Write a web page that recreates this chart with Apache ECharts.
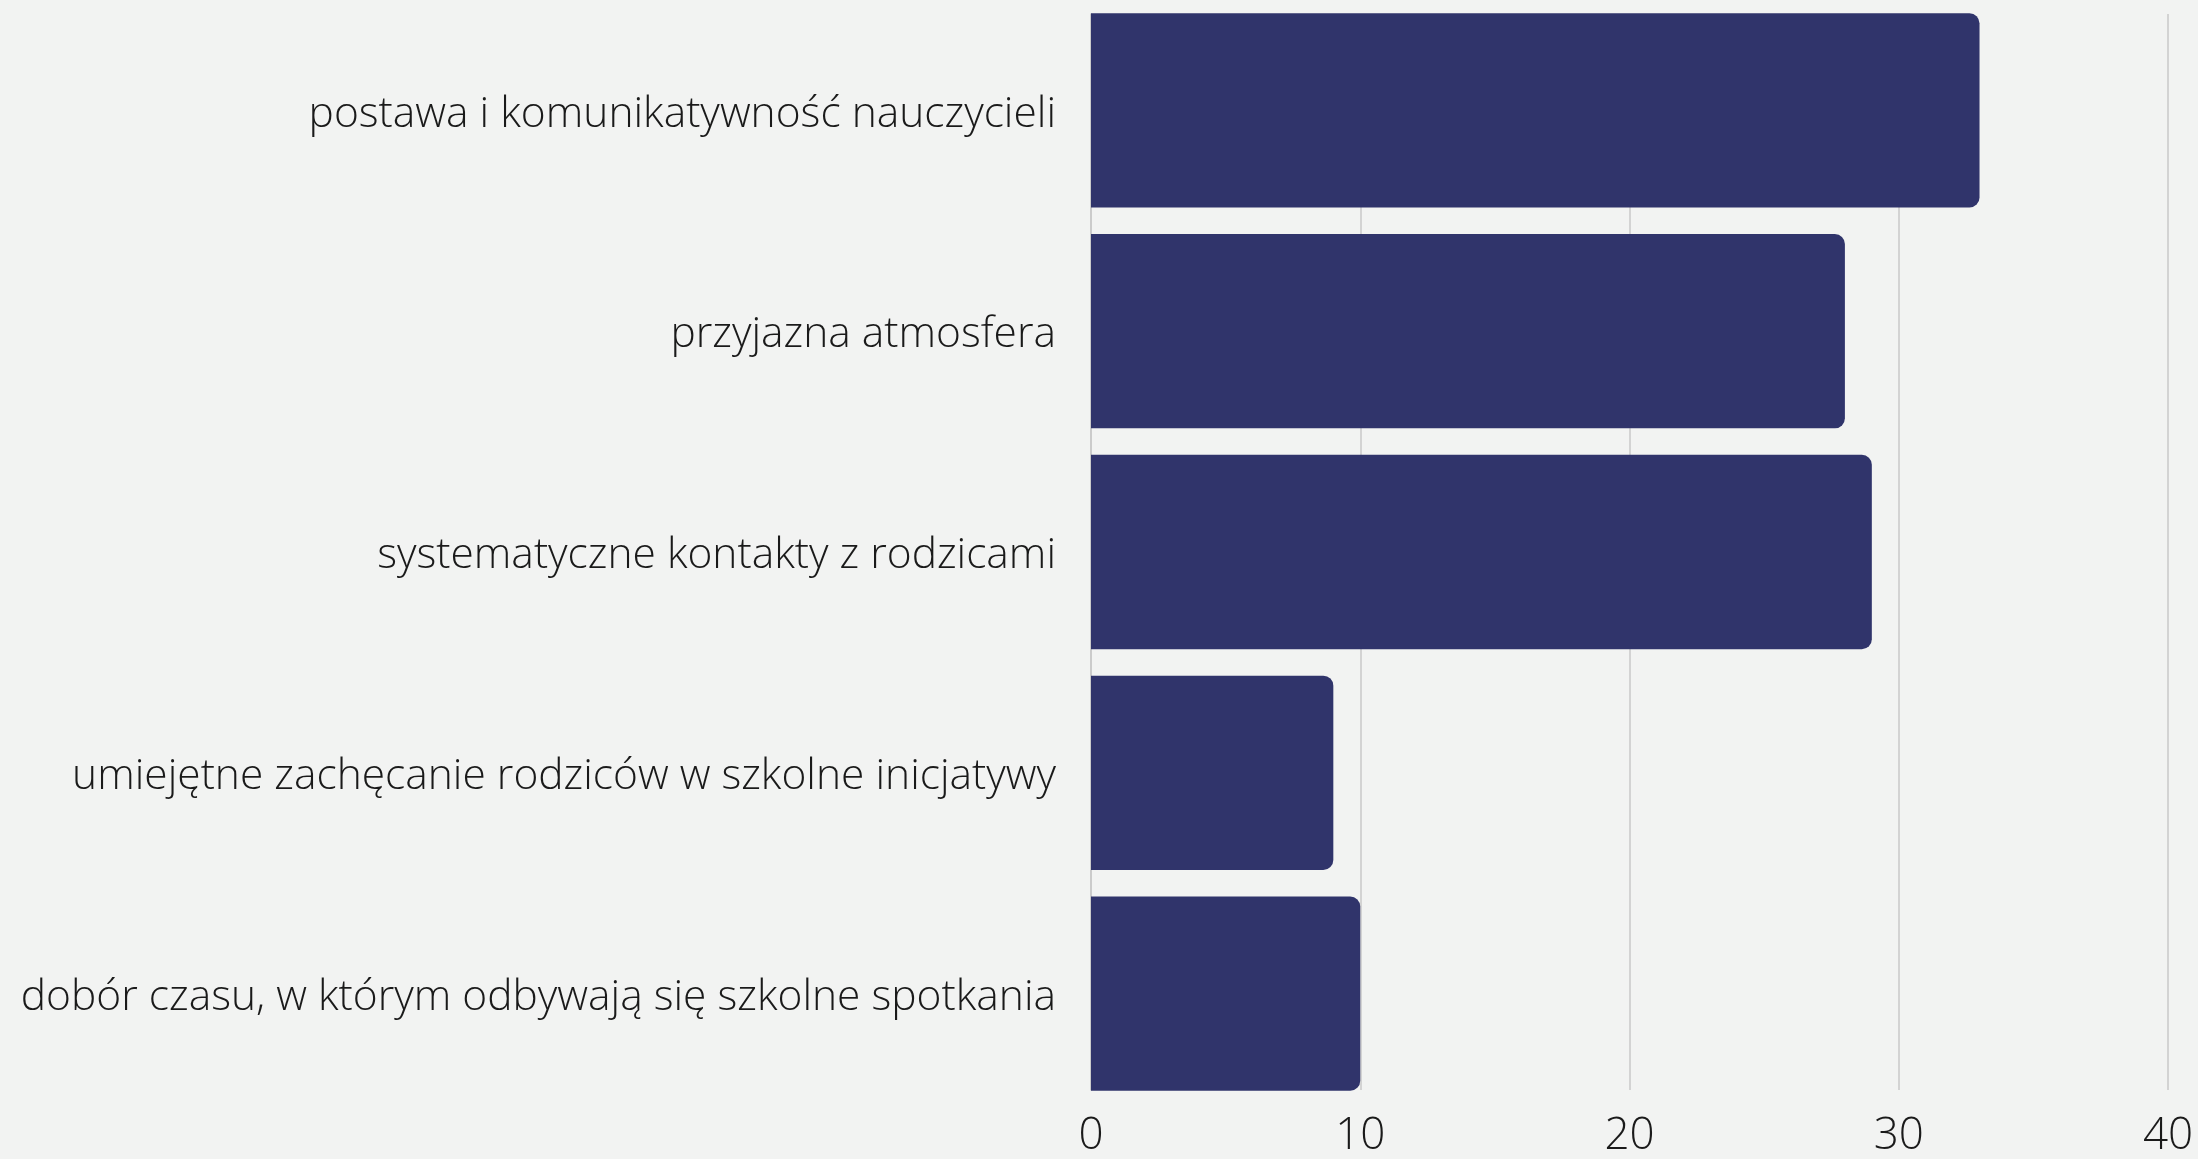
<!DOCTYPE html>
<html>
<head>
<meta charset="utf-8">
<script src="https://cdn.jsdelivr.net/npm/echarts@6/dist/echarts.min.js"></script>
<style>
  html, body { margin: 0; padding: 0; background: #f2f3f2; }
  #chart { width: 2198px; height: 1159px; }
</style>
</head>
<body>
<div id="chart"></div>
<script>
// kategorie (od góry)
var categories = [
    'postawa i komunikatywność nauczycieli',
    'przyjazna atmosfera',
    'systematyczne kontakty z rodzicami',
    'umiejętne zachęcanie rodziców w szkolne inicjatywy',
    'dobór czasu, w którym odbywają się szkolne spotkania'
];
var values = [33, 28, 29, 9, 10];
var xTicks = [0, 10, 20, 30, 40];

var chart = echarts.init(document.getElementById('chart'));
var font = '"Open Sans", sans-serif';

var option = {
    backgroundColor: '#f2f3f2',
    animation: false,
    grid: [
        // siatka z liniami i osią
        { left: 1091, right: 30, top: 14, bottom: 69, outerBoundsMode: 'none', containLabel: false },
        // słupki
        { left: 1091, right: 30, top: 0, bottom: 55, outerBoundsMode: 'none', containLabel: false }
    ],
    xAxis: [
        {
            gridIndex: 0,
            type: 'value',
            min: xTicks[0],
            max: xTicks[xTicks.length - 1],
            interval: 10,
            axisLine: { show: false },
            axisTick: { show: false },
            splitLine: { lineStyle: { color: '#c8c8c8', width: 1.5 } },
            axisLabel: {
                fontFamily: font,
                fontWeight: 300,
                fontSize: 44,
                color: '#1a1a1a',
                margin: 24
            }
        },
        {
            gridIndex: 1,
            type: 'value',
            min: xTicks[0],
            max: xTicks[xTicks.length - 1],
            show: false
        }
    ],
    yAxis: [
        {
            gridIndex: 0,
            type: 'category',
            data: categories,
            inverse: true,
            axisLine: { show: true, lineStyle: { color: '#c8c8c8', width: 1.5 } },
            axisTick: { show: false },
            axisLabel: { show: false }
        },
        {
            gridIndex: 1,
            type: 'category',
            data: categories,
            inverse: true,
            axisLine: { show: false },
            axisTick: { show: false },
            axisLabel: {
                margin: 35,
                formatter: '{t|{value}}',
                rich: {
                    t: {
                        fontFamily: font,
                        fontWeight: 300,
                        fontSize: 42.5,
                        color: '#1a1a1a',
                        padding: [8, 0, 0, 0]
                    }
                }
            }
        }
    ],
    series: [
        {
            type: 'bar',
            xAxisIndex: 1,
            yAxisIndex: 1,
            data: values,
            barCategoryGap: '12%',
            itemStyle: {
                color: '#30346b',
                borderRadius: [0, 10, 10, 0]
            }
        }
    ]
};
chart.setOption(option);
</script>
</body>
</html>
